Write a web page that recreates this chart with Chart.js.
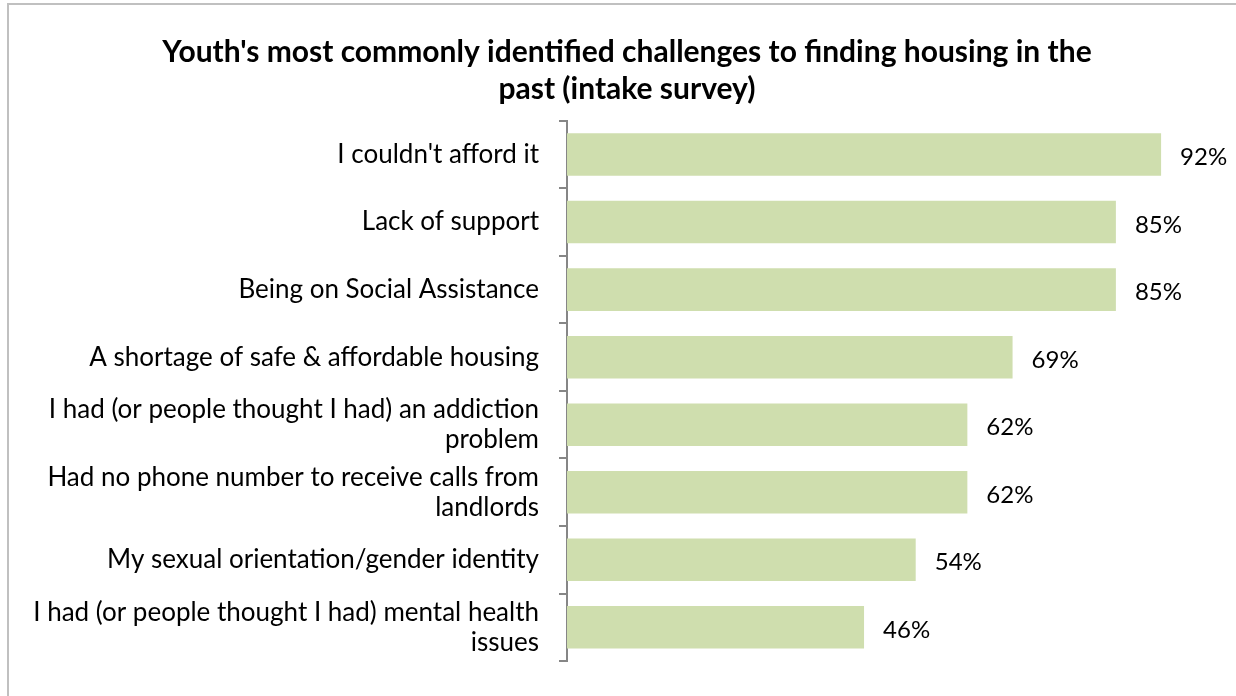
<!DOCTYPE html>
<html>
<head>
<meta charset="utf-8">
<script src="https://cdn.jsdelivr.net/npm/chart.js@4"></script>
<style>
    html, body { margin: 0; padding: 0; background: #fff; overflow: hidden; }
    #wrap { position: relative; width: 1236px; height: 696px; overflow: hidden; }
    #frame { position: absolute; left: 7px; top: 3px; width: 1300px; height: 800px; border: 2px solid #c0c0c0; box-sizing: border-box; pointer-events: none; }
    canvas { position: absolute; left: 0; top: 0; }
</style>
</head>
<body>
<div id="wrap">
    <canvas id="myChart" width="1236" height="696"></canvas>
    <div id="frame"></div>
</div>
<script>
//! DATA
const challenges = [
    "I couldn't afford it",
    "Lack of support",
    "Being on Social Assistance",
    "A shortage of safe & affordable housing",
    ["I had (or people thought I had) an addiction", "problem"],
    ["Had no phone number to receive calls from", "landlords"],
    "My sexual orientation/gender identity",
    ["I had (or people thought I had) mental health", "issues"]
];
const percentYouth = [92, 85, 85, 69, 62, 62, 54, 46];

const FONT = 'Lato, "Open Sans", sans-serif';

//* draws "xx%" just right of each bar
const valueLabels = {
    id: 'valueLabels',
    afterDatasetsDraw(chart) {
        const ctx = chart.ctx;
        const meta = chart.getDatasetMeta(0);
        ctx.save();
        ctx.font = '24px ' + FONT;
        ctx.fillStyle = '#000';
        ctx.textAlign = 'left';
        ctx.textBaseline = 'middle';
        meta.data.forEach((bar, i) => {
            ctx.fillText(percentYouth[i] + '%', bar.x + 19, bar.y + 3);
        });
        ctx.restore();
    }
};

//! CHART CONFIG
const data = {
    labels: challenges,
    datasets: [{
        data: percentYouth,
        backgroundColor: '#cfdeae',
        borderWidth: 0,
        categoryPercentage: 0.63,
        barPercentage: 1.0
    }]
};

const config = {
    type: 'bar',
    data,
    plugins: [valueLabels],
    options: {
        indexAxis: 'y',
        responsive: false,
        animation: false,
        layout: { padding: { left: 18, right: 0, top: 0, bottom: 27 } },
        plugins: {
            legend: { display: false },
            tooltip: { enabled: false },
            title: {
                display: true,
                text: ["Youth's most commonly identified challenges to finding housing in the", "past (intake survey)"],
                color: '#000',
                font: { family: FONT, size: 30, weight: 'bold', lineHeight: 1.23 },
                padding: { top: 34, bottom: 13 }
            }
        },
        scales: {
            x: {
                min: 0,
                max: 103.6,
                display: false
            },
            y: {
                afterFit(scale) { scale.width = 549; },
                border: { display: true, color: '#868686', width: 2 },
                grid: {
                    offset: true,
                    drawOnChartArea: false,
                    drawTicks: true,
                    tickLength: 8,
                    color: '#868686',
                    lineWidth: 2
                },
                ticks: {
                    color: '#000',
                    padding: 20,
                    font: { family: FONT, size: 26, lineHeight: 1.15 }
                }
            }
        }
    }
};

//! CREATE CHART
const myChart = new Chart(document.getElementById('myChart'), config);
</script>
</body>
</html>
